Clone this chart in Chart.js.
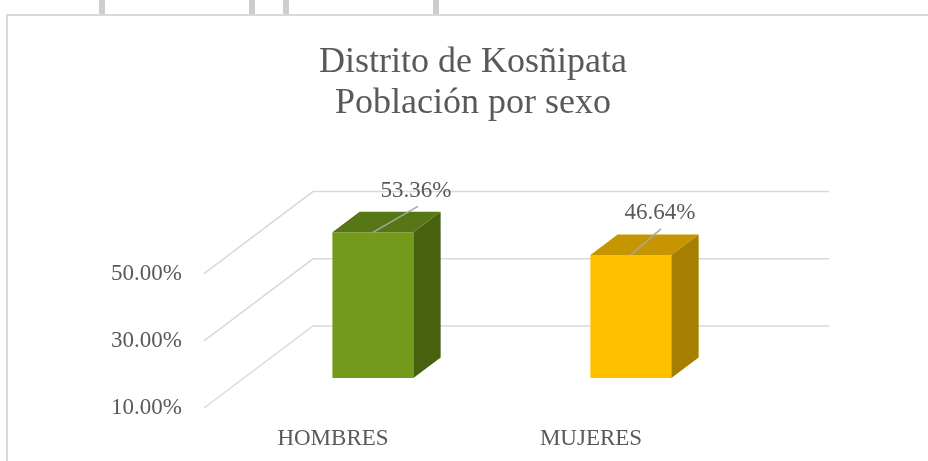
<!DOCTYPE html>
<html lang="es">
    <head>
        <meta charset="UTF-8">
        <title>Distrito de Kosñipata</title>
        <script src="https://cdn.jsdelivr.net/npm/chart.js"></script>
        <style>
            html, body { margin: 0; padding: 0; background: #fff; }
            #wrap { width: 928px; height: 461px; }
        </style>
    </head>
    <body>
        <div id="wrap"><canvas id="sexChart"></canvas></div>
    </body>
    <script>
        const titleLines = ['Distrito de Kosñipata', 'Población por sexo'];
        const categories = ['HOMBRES', 'MUJERES'];
        const values = [53.36, 46.64];
        const yTicks = [10, 30, 50];
        const frontColors = ['#739a1b', '#ffc000'];
        const topColors = ['#577716', '#c79500'];
        const sideColors = ['#48610f', '#a67e00'];
        const yMin = 10, yMax = 60;

        const FONT = '"Liberation Serif", "Times New Roman", serif';
        const TEXT = '#595959';

        // 3D look: floor depth vector, bar front plane and bar depth as a share of it
        const DEPTH_X = 109, DEPTH_Y = -82;
        const BAR_FRONT = 0.366, BAR_DEPTH = 0.25;
        const labelOffsets = [[43, -41], [29, -42]];
        const leaderEnds = [[45, -26], [30, -26]];

        const pct = v => v.toFixed(2) + '%';

        const fakeExcel = {
            id: 'fakeExcel',
            beforeDraw(chart) {
                const ctx = chart.ctx;
                ctx.save();
                // sheet column marks + chart frame
                ctx.fillStyle = '#cdcdcd';
                [[99, 6], [249, 6], [283, 6], [433, 6]].forEach(([x, w]) => ctx.fillRect(x, 0, w, 14));
                ctx.strokeStyle = '#d9d9d9';
                ctx.lineWidth = 2;
                ctx.beginPath();
                ctx.moveTo(7, 470);
                ctx.lineTo(7, 15);
                ctx.lineTo(940, 15);
                ctx.stroke();
                // title
                ctx.fillStyle = TEXT;
                ctx.font = '36px ' + FONT;
                ctx.textAlign = 'center';
                ctx.textBaseline = 'alphabetic';
                titleLines.forEach((t, i) => ctx.fillText(t, 473, 72 + i * 41));
                ctx.restore();
            },
            beforeDatasetsDraw(chart) {
                const ctx = chart.ctx;
                const y = chart.scales.y;
                const area = chart.chartArea;
                ctx.save();
                ctx.strokeStyle = '#d9d9d9';
                ctx.lineWidth = 1.5;
                yTicks.forEach(v => {
                    const py = y.getPixelForValue(v);
                    ctx.beginPath();
                    ctx.moveTo(area.left, py);
                    ctx.lineTo(area.left + DEPTH_X, py + DEPTH_Y);
                    ctx.lineTo(area.right + DEPTH_X, py + DEPTH_Y);
                    ctx.stroke();
                });
                ctx.restore();
            },
            afterDatasetsDraw(chart) {
                const ctx = chart.ctx;
                const meta = chart.getDatasetMeta(0);
                const fx = DEPTH_X * BAR_FRONT, fy = DEPTH_Y * BAR_FRONT;
                const dx = DEPTH_X * BAR_DEPTH, dy = DEPTH_Y * BAR_DEPTH;
                ctx.save();
                meta.data.forEach((bar, i) => {
                    const p = bar.getProps(['x', 'y', 'base', 'width'], true);
                    const L = p.x - p.width / 2 + fx, R = p.x + p.width / 2 + fx;
                    const T = p.y + fy, B = p.base + fy;
                    // front
                    ctx.fillStyle = frontColors[i];
                    ctx.fillRect(L, T, R - L, B - T);
                    // top
                    ctx.fillStyle = topColors[i];
                    ctx.beginPath();
                    ctx.moveTo(L, T);
                    ctx.lineTo(L + dx, T + dy);
                    ctx.lineTo(R + dx, T + dy);
                    ctx.lineTo(R, T);
                    ctx.closePath();
                    ctx.fill();
                    // side
                    ctx.fillStyle = sideColors[i];
                    ctx.beginPath();
                    ctx.moveTo(R, T);
                    ctx.lineTo(R + dx, T + dy);
                    ctx.lineTo(R + dx, B + dy);
                    ctx.lineTo(R, B);
                    ctx.closePath();
                    ctx.fill();
                    // leader line + label
                    const cx = (L + R) / 2;
                    ctx.strokeStyle = '#a6a6a6';
                    ctx.lineWidth = 1.5;
                    ctx.beginPath();
                    ctx.moveTo(cx, T);
                    ctx.lineTo(cx + leaderEnds[i][0], T + leaderEnds[i][1]);
                    ctx.stroke();
                    ctx.fillStyle = TEXT;
                    ctx.font = '23px ' + FONT;
                    ctx.textAlign = 'center';
                    ctx.textBaseline = 'middle';
                    ctx.fillText(pct(values[i]), cx + labelOffsets[i][0], T + labelOffsets[i][1]);
                });
                ctx.restore();
            }
        };

        new Chart(document.getElementById('sexChart'), {
            type: 'bar',
            data: {
                labels: categories,
                datasets: [{
                    data: values,
                    base: yMin,
                    backgroundColor: 'rgba(0,0,0,0)',
                    borderWidth: 0,
                    barPercentage: 0.314,
                    categoryPercentage: 1
                }]
            },
            options: {
                responsive: true,
                maintainAspectRatio: false,
                animation: false,
                layout: { padding: { left: 94, right: 208, top: 240, bottom: 0 } },
                plugins: {
                    legend: { display: false },
                    title: { display: false },
                    tooltip: { enabled: false }
                },
                scales: {
                    x: {
                        grid: { display: false, drawTicks: false },
                        border: { display: false },
                        ticks: { color: TEXT, font: { family: FONT, size: 23 }, padding: 17 },
                        afterFit: s => { s.height = 53; }
                    },
                    y: {
                        min: yMin,
                        max: yMax,
                        grid: { display: false, drawTicks: false },
                        border: { display: false },
                        ticks: {
                            color: TEXT,
                            font: { family: FONT, size: 23 },
                            padding: 22,
                            callback: v => pct(v)
                        },
                        afterBuildTicks: s => { s.ticks = yTicks.map(v => ({ value: v })); },
                        afterFit: s => { s.width = 110; }
                    }
                }
            },
            plugins: [fakeExcel]
        });
    </script>
</html>
